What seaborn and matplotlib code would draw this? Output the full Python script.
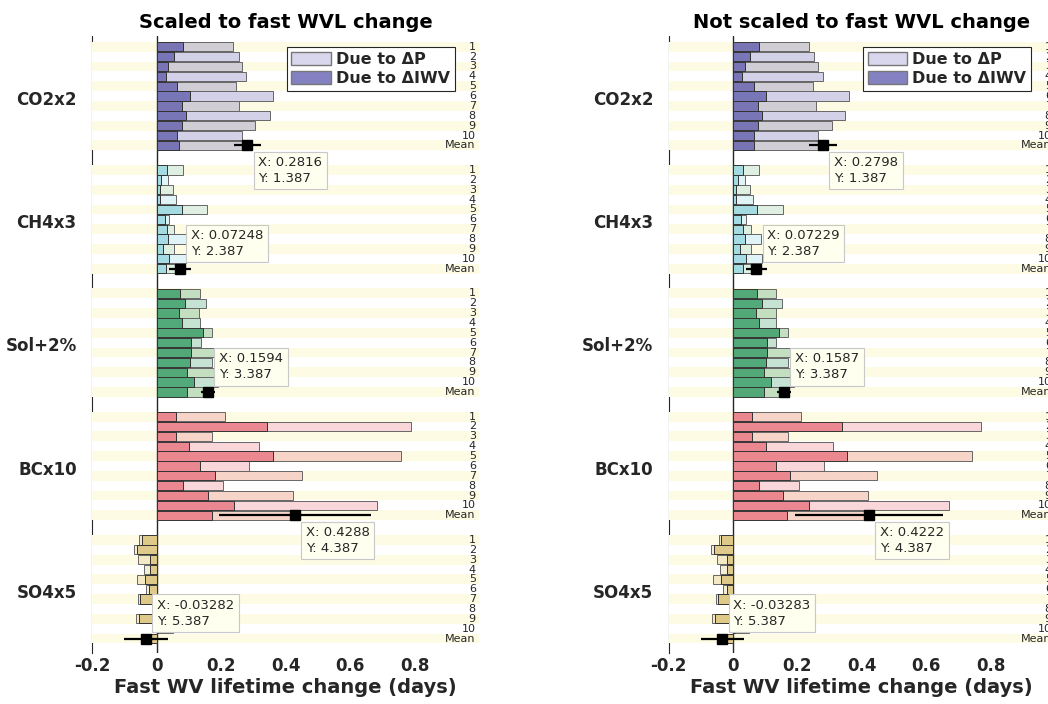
import numpy as np
import matplotlib
matplotlib.use("Agg")
import matplotlib.pyplot as plt
import seaborn as sns
from matplotlib.patches import Patch
from matplotlib.colors import to_rgba

sns.set_theme(style="white")
plt.rcParams["font.family"] = ["DejaVu Sans"]
plt.rcParams["axes.unicode_minus"] = False
plt.rcParams["text.color"] = "#262626"

groups = ["CO2x2", "CH4x3", "Sol+2%", "BCx10", "SO4x5"]
row_labels = ["1", "2", "3", "4", "5", "6", "7", "8", "9", "10", "Mean"]
group_colors = ["#6b67b0", "#9ad8e3", "#3fa06b", "#e97a85", "#dcc47f"]
xticks = [-0.2, 0, 0.2, 0.4, 0.6, 0.8]
xtick_labels = ["-0.2", "0", "0.2", "0.4", "0.6", "0.8"]

# ---- Scaled to fast WVL change (left) ----
co2_iwv_s = [0.081, 0.054, 0.036, 0.029, 0.065, 0.103, 0.078, 0.091, 0.078, 0.065, 0.070]
co2_tot_s = [0.238, 0.255, 0.264, 0.279, 0.246, 0.362, 0.257, 0.352, 0.305, 0.264, 0.2816]
ch4_iwv_s = [0.033, 0.013, 0.011, 0.011, 0.078, 0.026, 0.033, 0.037, 0.021, 0.039, 0.031]
ch4_tot_s = [0.081, 0.036, 0.052, 0.060, 0.157, 0.038, 0.055, 0.090, 0.055, 0.093, 0.07248]
sol_iwv_s = [0.074, 0.088, 0.069, 0.080, 0.145, 0.106, 0.106, 0.104, 0.096, 0.116, 0.096]
sol_tot_s = [0.134, 0.152, 0.131, 0.134, 0.173, 0.137, 0.185, 0.173, 0.185, 0.190, 0.1594]
bc_iwv_s = [0.059, 0.344, 0.062, 0.101, 0.362, 0.134, 0.181, 0.081, 0.160, 0.240, 0.173]
bc_tot_s = [0.213, 0.789, 0.173, 0.317, 0.759, 0.287, 0.452, 0.207, 0.424, 0.683, 0.4288]
so4_iwv_s = [-0.045, -0.062, -0.021, -0.020, -0.036, -0.022, -0.050, -0.003, -0.055, 0.005, -0.025]
so4_tot_s = [-0.054, -0.070, -0.057, -0.040, -0.062, -0.034, -0.057, 0.045, -0.065, 0.050, -0.03282]
err_s = [0.042, 0.033, 0.021, 0.235, 0.068]
tipx_s = ["0.2816", "0.07248", "0.1594", "0.4288", "-0.03282"]

# ---- Not scaled to fast WVL change (right) ----
co2_iwv_n = [0.080, 0.053, 0.036, 0.029, 0.064, 0.102, 0.077, 0.091, 0.077, 0.064, 0.066]
co2_tot_n = [0.237, 0.252, 0.263, 0.279, 0.247, 0.360, 0.257, 0.347, 0.307, 0.263, 0.2798]
ch4_iwv_n = [0.032, 0.014, 0.010, 0.010, 0.076, 0.025, 0.032, 0.037, 0.021, 0.040, 0.031]
ch4_tot_n = [0.081, 0.037, 0.053, 0.061, 0.156, 0.040, 0.055, 0.087, 0.055, 0.090, 0.07229]
sol_iwv_n = [0.074, 0.089, 0.071, 0.081, 0.144, 0.105, 0.105, 0.103, 0.097, 0.117, 0.097]
sol_tot_n = [0.135, 0.152, 0.132, 0.135, 0.172, 0.135, 0.183, 0.172, 0.183, 0.188, 0.1587]
bc_iwv_n = [0.058, 0.338, 0.058, 0.102, 0.355, 0.132, 0.178, 0.081, 0.156, 0.235, 0.169]
bc_tot_n = [0.210, 0.771, 0.172, 0.312, 0.741, 0.284, 0.446, 0.206, 0.420, 0.672, 0.4222]
so4_iwv_n = [-0.036, -0.058, -0.020, -0.018, -0.036, -0.020, -0.048, -0.003, -0.055, 0.005, -0.024]
so4_tot_n = [-0.045, -0.067, -0.051, -0.040, -0.061, -0.030, -0.054, 0.045, -0.065, 0.050, -0.03283]
err_n = [0.043, 0.033, 0.021, 0.230, 0.067]
tipx_n = ["0.2798", "0.07229", "0.1587", "0.4222", "-0.03283"]

tipy = ["1.387", "2.387", "3.387", "4.387", "5.387"]
tip_below = [True, False, False, True, False]

row_offsets = 0.387 - 0.08 * np.arange(10, -1, -1)
stripe_cols = ["#fdfbe4" if k % 2 == 0 else "white" for k in range(11)]


def draw_panel(ax, iwvs, tots, errs, tipx, title):
    for gi, (iwv, tot) in enumerate(zip(iwvs, tots)):
        iwv = np.asarray(iwv)
        tot = np.asarray(tot)
        y = gi + 1 + row_offsets
        col = group_colors[gi]
        ax.barh(y, 1.2, left=-0.2, height=0.08, color=stripe_cols, lw=0, zorder=1)
        ax.barh(y, tot - iwv, left=iwv, height=0.075, facecolor=to_rgba(col, 0.3),
                edgecolor="#666666", lw=0.7, zorder=3)
        ax.barh(y, iwv, height=0.075, facecolor=to_rgba(col, 0.9),
                edgecolor="#333333", lw=0.7, zorder=3)
        ax.errorbar(tot[-1], y[-1], xerr=errs[gi], fmt="s", color="black", ms=6.5,
                    elinewidth=1.6, capsize=0, zorder=5)
        for k, lab in enumerate(row_labels):
            ax.text(0.99, y[k], lab, ha="right", va="center", fontsize=8,
                    color="#262626", zorder=6)
        if tip_below[gi]:
            off, va = (11, -11), "top"
        else:
            off, va = (11, 11), "bottom"
        ax.annotate(f"X: {tipx[gi]}\nY: {tipy[gi]}", xy=(tot[-1], y[-1]), xytext=off,
                    textcoords="offset pixels", ha="left", va=va, fontsize=9.5,
                    linespacing=1.25, color="#262626", zorder=8,
                    bbox=dict(boxstyle="square,pad=0.35", fc="#fffff0", ec="#c8c8c8", lw=0.8))
    ax.axvline(0, color="#262626", lw=1.0, zorder=2)
    ax.set_xlim(-0.2, 1.0)
    ax.set_ylim(5.5, 0.5)
    ax.set_yticks([1, 2, 3, 4, 5], labels=groups, fontweight="bold", fontsize=12)
    ax.set_xticks(xticks, labels=xtick_labels, fontweight="bold", fontsize=12)
    ax.tick_params(axis="y", length=0, pad=11, colors="#262626")
    ax.tick_params(axis="x", direction="in", length=4, width=0.8, pad=3.5, colors="#262626")
    for s in ["top", "right", "bottom"]:
        ax.spines[s].set_visible(False)
    ax.spines["left"].set_color("#262626")
    ax.spines["left"].set_linewidth(0.8)
    ax.spines["left"].set_zorder(0.5)
    ax.set_title(title, fontsize=14, fontweight="bold", pad=6, color="black")
    ax.set_xlabel("Fast WV lifetime change (days)", fontsize=14, fontweight="bold",
                  labelpad=2, color="#262626")
    handles = [Patch(facecolor="#d8d7ee", edgecolor="#777777", label="Due to \u0394P"),
               Patch(facecolor="#8481c2", edgecolor="#777777", label="Due to \u0394IWV")]
    leg = ax.legend(handles=handles, loc="upper right", bbox_to_anchor=(0.938, 0.982),
                    borderaxespad=0, fancybox=False, framealpha=1, edgecolor="#262626",
                    prop={"weight": "bold", "size": 11.5}, handlelength=2.5,
                    handleheight=0.9, handletextpad=0.3, borderpad=0.3, labelspacing=0.25)
    leg.get_frame().set_linewidth(0.8)
    leg.set_zorder(9)


fig = plt.figure(figsize=(10.48, 7.04), dpi=100)
W, H = 1048, 704
ax1 = fig.add_axes([92 / W, 1 - 652.5 / H, 387 / W, 616.5 / H])
ax2 = fig.add_axes([668.6 / W, 1 - 652.5 / H, 386.4 / W, 616.5 / H])

draw_panel(ax1, [co2_iwv_s, ch4_iwv_s, sol_iwv_s, bc_iwv_s, so4_iwv_s],
           [co2_tot_s, ch4_tot_s, sol_tot_s, bc_tot_s, so4_tot_s], err_s, tipx_s,
           "Scaled to fast WVL change")
draw_panel(ax2, [co2_iwv_n, ch4_iwv_n, sol_iwv_n, bc_iwv_n, so4_iwv_n],
           [co2_tot_n, ch4_tot_n, sol_tot_n, bc_tot_n, so4_tot_n], err_n, tipx_n,
           "Not scaled to fast WVL change")

fig.savefig("out.png", dpi=100)
